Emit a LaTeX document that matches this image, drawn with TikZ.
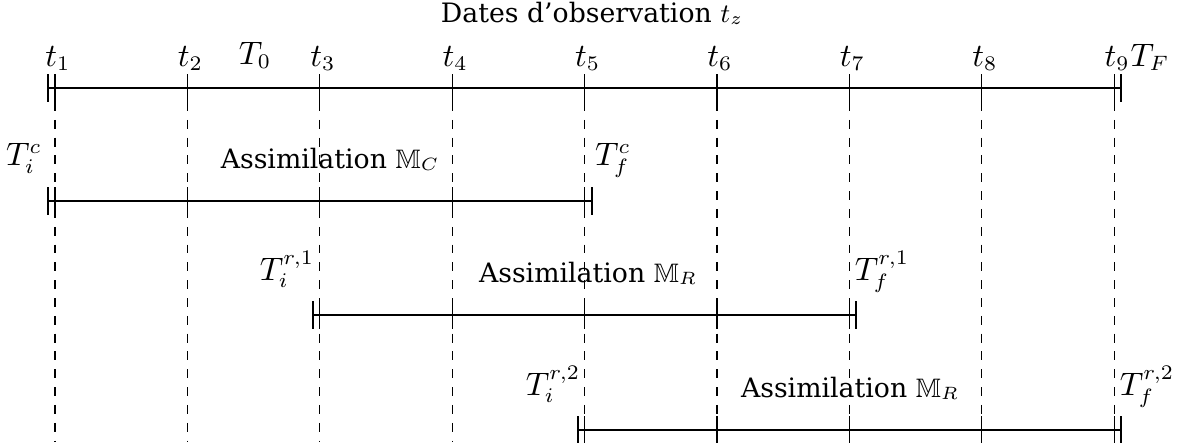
\documentclass[tikz,border=0pt]{standalone}
\usepackage{amssymb}
\usepackage{fontspec}
\setmainfont{DejaVu Serif}
\begin{document}
\begin{tikzpicture}[x=0.3367pt,y=-0.3367pt,
  axis/.style={line width=0.4pt},
  tickmark/.style={line width=0.4pt},
  guide/.style={dashed,line width=0.4pt},
  lbl/.style={inner sep=0pt,anchor=base,font=\fontsize{10.5}{12}\selectfont},
  txt/.style={inner sep=0pt,anchor=base,font=\fontsize{9}{11}\selectfont}]
\useasboundingbox (0,0) rectangle (1184,442);
% observation dates
\foreach \i/\x in {1/55,2/187.4,3/319.8,4/452.2,5/584.6,6/717,7/849.4,8/981.8,9/1114.2}{
  \coordinate (g\i) at (\x,102);
  \coordinate (gb\i) at (\x,442);
  \draw[guide] (g\i) -- (gb\i);
  \node[lbl] (tl\i) at (\x+3,66) {$t_{\i}$};
}
\node[txt] (title) at (592,22) {Dates d'observation $t_z$};
\node[lbl] (T0) at (255,64) {$T_0$};
\node[lbl,anchor=base west] (TF) at (1130,66) {$T_F$};
% generic row macro
\newcommand{\myrow}[5]{% name, y, xstart, xend, list of tick xs
  \coordinate (#1s) at (#3,#2);
  \coordinate (#1e) at (#4,#2);
  \draw[axis] (#1s) -- (#1e);
  \foreach \x [count=\k] in {#3,#4,#5}{
    \coordinate (#1a\k) at (\x,#2-14);
    \coordinate (#1b\k) at (\x,#2+14);
    \draw[tickmark] (#1a\k) -- (#1b\k);
  }
}
\myrow{r1}{88}{48}{1121}{55,187.4,319.8,452.2,584.6,717,849.4,981.8,1114.2}
\myrow{r2}{201}{48}{592}{55,187.4,319.8,452.2,584.6}
\myrow{r3}{315}{313}{856}{319.8,452.2,584.6,717,849.4}
\myrow{r4}{430}{578}{1121}{584.6,717,849.4,981.8,1114.2}
% row labels
\node[lbl] (Tic) at (24,165) {$T_i^c$};
\node[txt] (AC) at (330,168) {Assimilation $\mathbb{M}_C$};
\node[lbl] (Tfc) at (613,165) {$T_f^c$};
\node[lbl] (Ti1) at (287,280) {$T_i^{r,1}$};
\node[txt] (AR1) at (588,282) {Assimilation $\mathbb{M}_R$};
\node[lbl] (Tf1) at (882,280) {$T_f^{r,1}$};
\node[lbl] (Ti2) at (553,395) {$T_i^{r,2}$};
\node[txt] (AR2) at (850,397) {Assimilation $\mathbb{M}_R$};
\node[lbl] (Tf2) at (1147,395) {$T_f^{r,2}$};
\end{tikzpicture}
\end{document}
